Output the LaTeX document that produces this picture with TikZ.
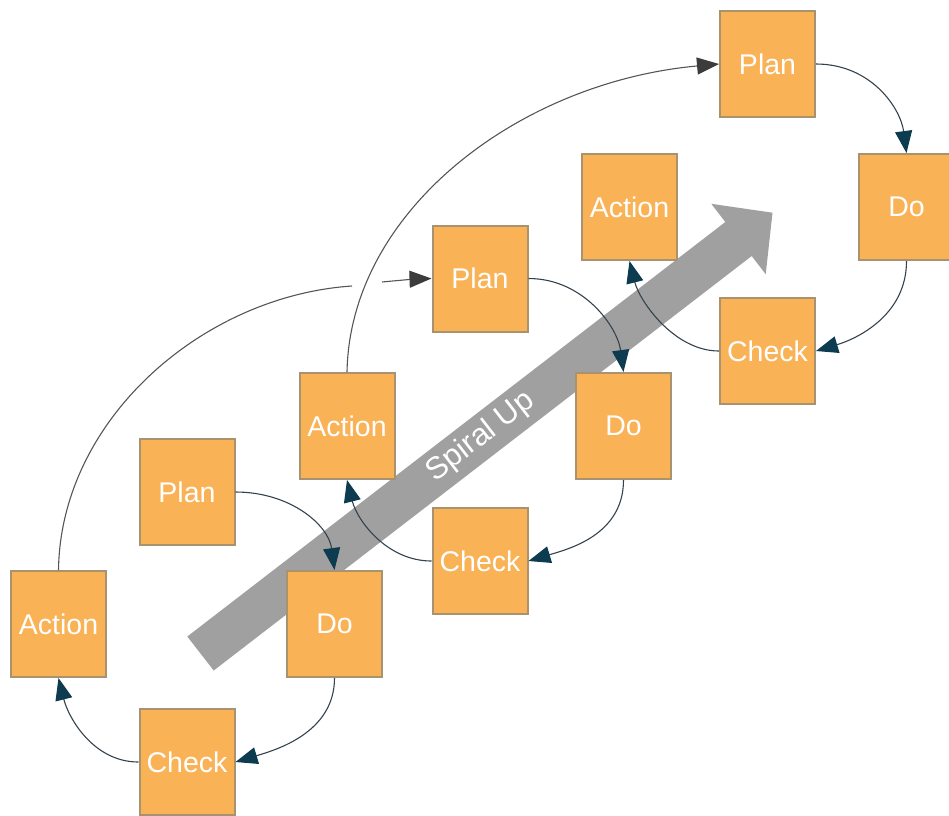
\documentclass[tikz,border=0pt]{standalone}
\usepackage{fontspec}
\setmainfont{Liberation Sans}
\usetikzlibrary{arrows.meta,calc}
\definecolor{boxfill}{HTML}{F9B256}
\definecolor{boxborder}{HTML}{A8926F}
\definecolor{spiral}{HTML}{A0A0A0}
\definecolor{cycline}{HTML}{34424C}
\definecolor{cychead}{HTML}{0D3B4F}
\definecolor{longline}{HTML}{555555}
\definecolor{longhead}{HTML}{3C3C3C}
\begin{document}
\begin{tikzpicture}[x=1pt,y=-1pt,
  pdca/.style={draw=boxborder, line width=2pt, fill=boxfill, minimum width=95pt,
    minimum height=106pt, inner sep=0pt, text=white,
    font=\fontsize{28.5}{30}\selectfont},
  cyc/.style={draw=cycline, line width=1.1pt,
    -{Triangle[length=22pt,width=17pt,color=cychead]}},
  longc/.style={draw=longline, line width=1.1pt},
  longarrow/.style={longc, -{Triangle[length=22pt,width=17pt,color=longhead]}}]
\useasboundingbox (0,0) rectangle (949,815);
% big grey arrow
\fill[spiral] (187.3,636.5) -- (725.3,222) -- (711.3,203.8) -- (772.5,212.7)
  -- (765.7,274.2) -- (751.7,256) -- (213.7,670.5) -- cycle;
\node[text=white, rotate=37.7, font=\fontsize{31}{33}\selectfont] (spiraltext) at (481,437) {Spiral Up};
% boxes
\node[pdca] (p1) at (187,492) {Plan};
\node[pdca] (d1) at (334.5,624) {Do};
\node[pdca] (c1) at (187,762) {Check};
\node[pdca] (a1) at (58.5,624) {Action};
\node[pdca] (p2) at (480,278.5) {Plan};
\node[pdca] (d2) at (623.5,426) {Do};
\node[pdca] (c2) at (480,561) {Check};
\node[pdca] (a2) at (347,426) {Action};
\node[pdca] (p3) at (767.5,64) {Plan};
\node[pdca] (d3) at (906.5,207) {Do};
\node[pdca] (c3) at (767.5,351) {Check};
\node[pdca] (a3) at (629.5,207) {Action};
% cycle connectors
\foreach \i in {1,2,3}{
  \draw[cyc] (p\i.east) .. controls ($(p\i.east)+(55,0)$) and ($(d\i.north)+(-6,-45)$) .. (d\i.north);
  \draw[cyc] (d\i.south) .. controls ($(d\i.south)+(0,55)$) and ($(c\i.east)+(40,-12)$) .. (c\i.east);
  \draw[cyc] (c\i.west) .. controls ($(c\i.west)+(-45,0)$) and ($(a\i.south)+(10,40)$) .. (a\i.south);
}
% long connectors
\coordinate (g1) at (352,286);
\coordinate (g2) at (382,282);
\draw[longc] (a1.north) .. controls ($(a1.north)+(2,-150)$) and ($(g1)+(-150,10)$) .. (g1);
\draw[longarrow] (g2) .. controls ($(g2)+(15,-1.5)$) and ($(p2.west)+(-15,0.5)$) .. (p2.west);
\draw[longarrow] (a2.north) .. controls ($(a2.north)+(3,-162)$) and ($(p3.west)+(-199,18)$) .. (p3.west);
\end{tikzpicture}
\end{document}
